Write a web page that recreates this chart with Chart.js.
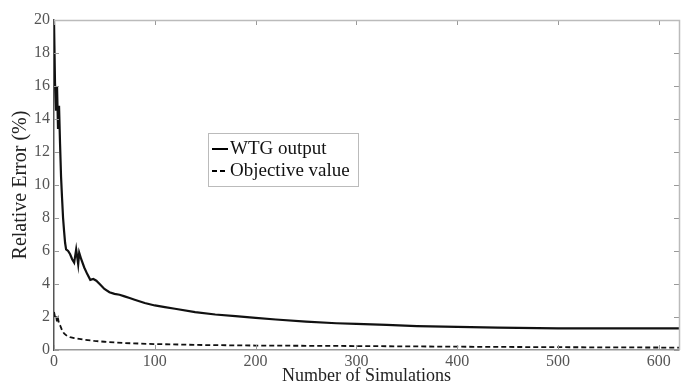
<!DOCTYPE html>
<html>
<head>
<meta charset="utf-8">
<script src="https://cdn.jsdelivr.net/npm/chart.js@4/dist/chart.umd.min.js"></script>
<style>
  html, body { margin: 0; padding: 0; background: #fff; }
  #wrap { width: 684px; height: 386px; }
</style>
</head>
<body>
<div id="wrap"><canvas id="grafico"></canvas></div>
<script>
// dados
const simsWtg = [0, 1, 2, 3, 4, 5, 6, 7, 8, 9, 10, 11, 12, 14, 16, 18, 20, 22, 24, 25, 27, 30, 33, 36, 39, 42, 46, 50, 55, 60, 65, 70, 75, 80, 90, 100, 110, 120, 140, 160, 180, 200, 220, 250, 280, 300, 330, 360, 400, 440, 480, 500, 550, 600, 620];
const wtgOutput = [20, 16.2, 14.5, 16.0, 13.4, 14.8, 12.5, 10.5, 9.2, 8.0, 7.2, 6.5, 6.1, 6.0, 5.8, 5.5, 5.3, 6.1, 5.2, 5.9, 5.5, 5.0, 4.6, 4.25, 4.3, 4.2, 3.95, 3.7, 3.5, 3.4, 3.35, 3.25, 3.15, 3.05, 2.85, 2.7, 2.6, 2.5, 2.3, 2.15, 2.05, 1.95, 1.85, 1.72, 1.62, 1.58, 1.52, 1.45, 1.40, 1.36, 1.32, 1.31, 1.31, 1.31, 1.31];

const simsObj = [0, 1, 2, 3, 4, 5, 6, 8, 10, 13, 16, 20, 30, 40, 50, 70, 100, 150, 200, 300, 400, 500, 600, 620];
const objValue = [2.3, 2.0, 2.1, 1.7, 1.9, 1.6, 1.5, 1.2, 1.0, 0.85, 0.78, 0.72, 0.62, 0.55, 0.5, 0.42, 0.36, 0.3, 0.27, 0.24, 0.2, 0.17, 0.15, 0.15];

const xTicks = [0, 100, 200, 300, 400, 500, 600];
const yTicks = [0, 2, 4, 6, 8, 10, 12, 14, 16, 18, 20];

const serif = "'Liberation Serif', 'DejaVu Serif', serif";

function pontos(xs, ys) {
  return xs.map((x, i) => ({x: x, y: ys[i]}));
}

/* moldura estilo matlab + legenda dentro do grafico */
const molduraPlugin = {
  id: 'moldura',
  afterDatasetsDraw(chart) {
    const c = chart.ctx;
    const a = chart.chartArea;
    c.save();
    // ticks internos
    c.strokeStyle = '#999';
    c.lineWidth = 1;
    const sx = chart.scales.x, sy = chart.scales.y;
    xTicks.forEach(v => {
      const px = Math.round(sx.getPixelForValue(v)) + 0.5;
      c.beginPath(); c.moveTo(px, a.bottom); c.lineTo(px, a.bottom - 5); c.stroke();
      c.beginPath(); c.moveTo(px, a.top); c.lineTo(px, a.top + 5); c.stroke();
    });
    yTicks.forEach(v => {
      const py = Math.round(sy.getPixelForValue(v)) + 0.5;
      c.beginPath(); c.moveTo(a.left, py); c.lineTo(a.left + 5, py); c.stroke();
      c.beginPath(); c.moveTo(a.right, py); c.lineTo(a.right - 5, py); c.stroke();
    });
    // bordas topo e direita
    c.strokeStyle = '#bbb';
    c.lineWidth = 1.5;
    c.beginPath();
    c.moveTo(a.left, a.top + 0.5);
    c.lineTo(a.right + 0.5, a.top + 0.5);
    c.lineTo(a.right + 0.5, a.bottom);
    c.stroke();

    // legenda
    const lx = 208, ly = 133, lw = 150, lh = 53;
    c.fillStyle = '#fff';
    c.fillRect(lx, ly, lw, lh);
    c.strokeStyle = '#bbb';
    c.lineWidth = 1;
    c.strokeRect(lx + 0.5, ly + 0.5, lw, lh);
    c.font = '19px ' + serif;
    c.textBaseline = 'middle';
    chart.data.datasets.forEach((ds, i) => {
      const yy = ly + 16 + i * 22;
      c.strokeStyle = '#000';
      c.lineWidth = 2;
      c.setLineDash(ds.borderDash || []);
      c.beginPath(); c.moveTo(lx + 4, yy); c.lineTo(lx + 20, yy); c.stroke();
      c.setLineDash([]);
      c.fillStyle = '#111';
      c.fillText(ds.label, lx + 22, yy, lw - 24);
    });
    c.restore();
  }
};

document.addEventListener('DOMContentLoaded', () => {
  const ctx = document.getElementById('grafico').getContext('2d');

  new Chart(ctx, {
    type: 'scatter',
    data: {
      datasets: [
        {
          label: 'WTG output',
          data: pontos(simsWtg, wtgOutput),
          showLine: true,
          borderColor: '#111',
          borderWidth: 2.2,
          pointRadius: 0,
          tension: 0
        },
        {
          label: 'Objective value',
          data: pontos(simsObj, objValue),
          showLine: true,
          borderColor: '#111',
          borderWidth: 1.8,
          borderDash: [5, 3],
          pointRadius: 0,
          tension: 0
        }
      ]
    },
    options: {
      responsive: true,
      maintainAspectRatio: false,
      animation: false,
      layout: {padding: {left: 0, right: 5, top: 20, bottom: 0}},
      scales: {
        x: {
          type: 'linear',
          min: 0,
          max: 620,
          afterBuildTicks: s => { s.ticks = xTicks.map(v => ({value: v})); },
          afterFit: s => { s.height = 36; },
          grid: {display: false, drawTicks: false},
          border: {display: true, color: '#999', width: 1.5},
          ticks: {color: '#555', font: {family: serif, size: 16, lineHeight: 1.1}, padding: 3, maxRotation: 0},
          title: {display: true, text: 'Number of Simulations', color: '#222', font: {family: serif, size: 18, lineHeight: 1.1}, padding: {top: 0, bottom: 0}}
        },
        y: {
          min: 0,
          max: 20,
          afterBuildTicks: s => { s.ticks = yTicks.map(v => ({value: v})); },
          afterFit: s => { s.width = 54; },
          grid: {display: false, drawTicks: false},
          border: {display: true, color: '#555', width: 1.5},
          ticks: {color: '#555', font: {family: serif, size: 16}, padding: 4},
          title: {display: true, text: 'Relative Error (%)', color: '#222', font: {family: serif, size: 20, lineHeight: 1.1}, padding: {top: 10, bottom: 2}}
        }
      },
      plugins: {
        legend: {display: false},
        tooltip: {enabled: false}
      }
    },
    plugins: [molduraPlugin]
  });
});
</script>
</body>
</html>
